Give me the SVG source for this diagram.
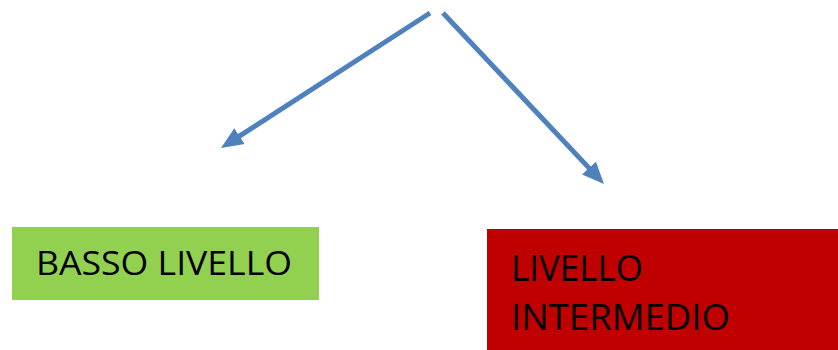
<svg xmlns="http://www.w3.org/2000/svg" width="838" height="350" viewBox="0 0 838 350">
<style>
.edge{stroke:#4F81BD;stroke-width:5;fill:none}
.lbl{font-family:"Open Sans","Noto Sans",sans-serif;fill:#000}
</style>
<defs>
<marker id="ah" markerUnits="userSpaceOnUse" markerWidth="22" markerHeight="20" viewBox="0 0 22 20" refX="2" refY="10" orient="auto">
<path d="M0,0.5 L22,10 L0,19.5 z" fill="#4F81BD"/>
</marker>
</defs>
<rect width="838" height="350" fill="#fff"/>
<g id="connectors">
<line class="edge" x1="430" y1="13" x2="237.8" y2="137.2" marker-end="url(#ah)"/>
<line class="edge" x1="443" y1="13" x2="590.3" y2="169.4" marker-end="url(#ah)"/>
</g>
<g id="basso">
<rect x="12" y="227" width="307" height="73" fill="#92D050"/>
<text class="lbl" x="36" y="275" font-size="32" textLength="256" lengthAdjust="spacingAndGlyphs">BASSO LIVELLO</text>
</g>
<g id="intermedio">
<rect x="487" y="229" width="351" height="121" fill="#C00000"/>
<text class="lbl" x="511" y="281" font-size="37" textLength="132" lengthAdjust="spacingAndGlyphs">LIVELLO</text>
<text class="lbl" x="511" y="330" font-size="37" textLength="219" lengthAdjust="spacingAndGlyphs">INTERMEDIO</text>
</g>
</svg>
